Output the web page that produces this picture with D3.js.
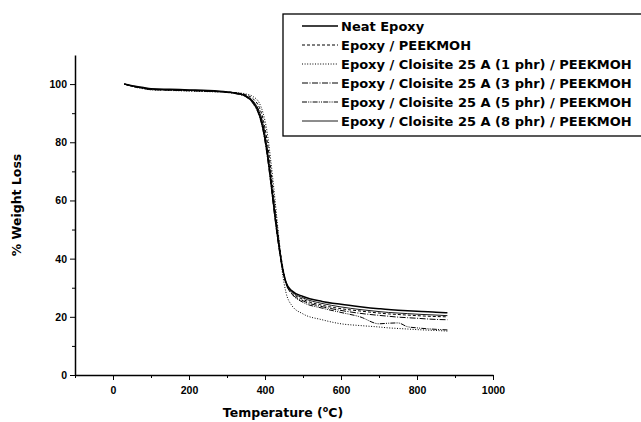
<!DOCTYPE html>
<html>
<head>
<meta charset="UTF-8">
<script src="https://d3js.org/d3.v7.min.js"></script>
<style>
  body { margin: 0; background: #fff; }
  svg { font-family: "DejaVu Sans", sans-serif; }
  .tick text { font-weight: bold; font-size: 10.5px; }
</style>
</head>
<body>
<script>
const seriesNames = [
  "Neat Epoxy",
  "Epoxy / PEEKMOH",
  "Epoxy / Cloisite 25 A (1 phr) / PEEKMOH",
  "Epoxy / Cloisite 25 A (3 phr) / PEEKMOH",
  "Epoxy / Cloisite 25 A (5 phr) / PEEKMOH",
  "Epoxy / Cloisite 25 A (8 phr) / PEEKMOH"
];
const temps = [30, 50, 80, 100, 150, 200, 250, 300, 330, 350, 370, 385, 395, 405, 415, 425, 435, 445, 455, 470, 500, 550, 600, 650, 700, 725, 750, 775, 800, 850, 880];
const neat = [100, 99.4, 98.8, 98.4, 98.2, 98.0, 97.8, 97.3, 96.7, 95.8, 93.5, 89.5, 84.5, 77, 67, 56, 46, 37.5, 32, 29, 27, 25.3, 24.3, 23.5, 22.8, 22.5, 22.3, 22.1, 21.9, 21.6, 21.4];
const peek = [100, 99.3, 98.6, 98.2, 98.0, 97.8, 97.6, 97.3, 96.9, 96.3, 94.8, 92, 88, 81, 71, 59, 48, 38.5, 32, 28.5, 26, 24, 22.8, 22, 21.3, 21.0, 20.8, 20.6, 20.4, 20.1, 20.0];
const c1   = [100, 99.2, 98.4, 98.0, 97.8, 97.6, 97.4, 97.2, 97.0, 96.6, 95.6, 93.5, 90, 84, 74, 62, 49, 36, 28.5, 24, 21, 19, 17.6, 17, 16.5, 16.2, 16.0, 15.8, 15.6, 15.3, 15.1];
const c3   = [100, 99.3, 98.5, 98.1, 97.9, 97.7, 97.5, 97.1, 96.5, 95.6, 93.0, 89, 84, 76, 66, 55, 45, 37, 31.5, 28, 25.5, 23.5, 22.2, 21.2, 20.5, 20.2, 19.9, 19.7, 19.5, 19.1, 19.0];
const c5   = [100, 99.3, 98.6, 98.2, 98.0, 97.8, 97.6, 97.2, 96.7, 95.9, 93.8, 90.5, 86, 78.5, 68.5, 57, 46.5, 37.5, 31.5, 28, 25, 23, 21.5, 20, 17.6, 17.8, 17.9, 16.6, 16.2, 15.7, 15.5];
const c8   = [100, 99.4, 98.7, 98.3, 98.1, 97.9, 97.7, 97.3, 96.8, 96.0, 94.0, 90.5, 86, 78, 67.5, 56.5, 46, 37.5, 32, 28.8, 26.5, 24.6, 23.4, 22.5, 21.8, 21.5, 21.3, 21.1, 20.9, 20.6, 20.4];
const seriesValues = [neat, peek, c1, c3, c5, c8];
const dashes = [null, "3,2", "1,1.6", "6,1.5,1,1.5", "5,1.2,1,1.2,1,1.2", null];
const widths = [1.5, 1, 1, 1, 1, 0.9];
const xTicks = [0, 200, 400, 600, 800, 1000];
const yTicks = [0, 20, 40, 60, 80, 100];

const width = 641, height = 422;
const svg = d3.select("body").append("svg").attr("width", width).attr("height", height);

const x = d3.scaleLinear().domain([-100, 1000]).range([75, 493]);
const y = d3.scaleLinear().domain([0, 110]).range([375, 55]);

// x axis: minor ticks, then major ticks with labels
svg.append("g")
  .attr("transform", "translate(0,375)")
  .call(d3.axisBottom(x).tickValues(d3.range(-100, 1001, 100)).tickSize(3).tickFormat(""))
  .call(g => g.select(".domain").remove());
svg.append("g")
  .attr("transform", "translate(0,375)")
  .call(d3.axisBottom(x).tickValues(xTicks).tickSize(5).tickPadding(7).tickSizeOuter(0).tickFormat(d3.format("d")))
  .call(g => g.select(".domain").attr("stroke-width", 1.5))
  .call(g => g.selectAll(".tick text").attr("fill", "#000"));

// y axis
svg.append("g")
  .attr("transform", "translate(75,0)")
  .call(d3.axisLeft(y).tickValues(d3.range(10, 110, 20)).tickSize(3).tickFormat(""))
  .call(g => g.select(".domain").remove());
svg.append("g")
  .attr("transform", "translate(75,0)")
  .call(d3.axisLeft(y).tickValues(yTicks).tickSize(5).tickPadding(3).tickSizeOuter(0))
  .call(g => g.select(".domain").attr("stroke-width", 1.5))
  .call(g => g.selectAll(".tick text").attr("fill", "#000"));

// axis titles
const xt = svg.append("text").attr("x", 283).attr("y", 417).attr("text-anchor", "middle")
  .attr("font-size", 12.5).attr("font-weight", "bold");
xt.append("tspan").text("Temperature (");
xt.append("tspan").text("o").attr("font-size", 8).attr("dy", -5);
xt.append("tspan").text("C)").attr("dy", 5);

svg.append("text").attr("transform", "translate(21,205) rotate(-90)").attr("text-anchor", "middle")
  .attr("font-size", 12.5).attr("font-weight", "bold").text("% Weight Loss");

// curves
const line = d3.line().x(d => x(d[0])).y(d => y(d[1])).curve(d3.curveMonotoneX);
seriesValues.forEach((vals, i) => {
  svg.append("path")
    .datum(temps.map((t, j) => [t, vals[j]]))
    .attr("fill", "none")
    .attr("stroke", "#000")
    .attr("stroke-width", widths[i])
    .attr("stroke-dasharray", dashes[i])
    .attr("d", line);
});

// legend
const lg = svg.append("g");
lg.append("rect").attr("x", 283).attr("y", 14).attr("width", 370).attr("height", 122)
  .attr("fill", "#fff").attr("stroke", "#000").attr("stroke-width", 1.3);
seriesNames.forEach((name, i) => {
  const yy = 26 + i * 19;
  lg.append("line").attr("x1", 302).attr("x2", 338).attr("y1", yy).attr("y2", yy)
    .attr("stroke", "#000").attr("stroke-width", widths[i]).attr("stroke-dasharray", dashes[i]);
  lg.append("text").attr("x", 341).attr("y", yy + 4.5).attr("font-size", 13).attr("font-weight", "bold")
    .text(name);
});
</script>
</body>
</html>
